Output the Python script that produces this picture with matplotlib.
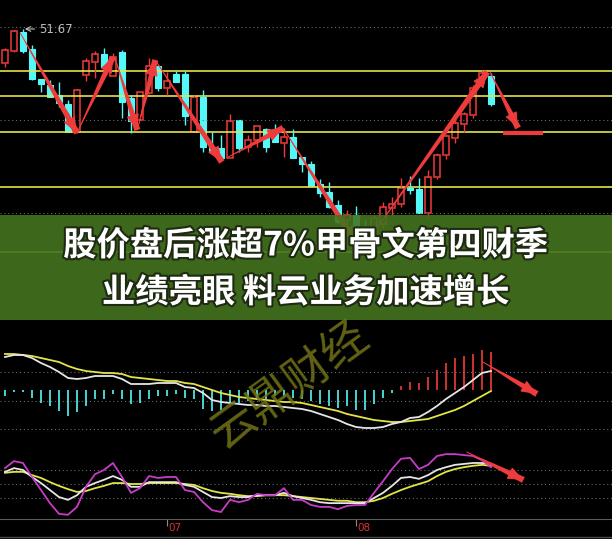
import numpy as np
import matplotlib.pyplot as plt
import matplotlib.patheffects as pe
from matplotlib.patches import Rectangle
from matplotlib.transforms import blended_transform_factory

plt.rcParams['font.family'] = ['Noto Sans CJK SC', 'DejaVu Sans']

# daily candles (price)
opens = [49.97, 50.57, 51.52, 50.67, 49.17, 48.87, 48.37, 47.92, 46.52, 49.37,
         50.02, 50.42, 49.32, 50.52, 48.22, 47.12, 48.47, 49.82, 48.72, 49.42,
         49.42, 46.52, 48.27, 45.77, 45.72, 45.22, 47.12, 45.77, 46.12, 46.67,
         46.52, 45.97, 46.27, 45.27, 44.92, 43.92, 43.52, 42.87, 42.12, 42.37,
         41.72, 41.42, 41.92, 42.72, 42.92, 43.72, 43.67, 42.47, 44.27, 45.37,
         46.22, 46.92, 47.37, 49.27, 49.32]
highs = [50.72, 51.62, 51.67, 50.87, 49.17, 49.12, 49.02, 48.12, 48.67, 50.22,
         50.57, 50.72, 50.47, 50.62, 48.37, 48.52, 50.22, 49.87, 49.52, 49.57,
         49.57, 48.37, 48.62, 46.52, 46.37, 47.42, 47.12, 46.37, 46.82, 46.72,
         46.92, 46.72, 46.67, 45.27, 45.07, 44.17, 44.02, 43.12, 42.62, 42.82,
         42.12, 42.37, 43.02, 43.27, 44.22, 44.32, 44.22, 44.62, 45.47, 46.42,
         47.12, 47.52, 48.87, 49.62, 49.47]
lows = [49.77, 50.52, 50.47, 49.12, 48.52, 48.27, 47.77, 46.52, 46.47, 49.07,
        49.22, 49.72, 49.32, 47.22, 46.47, 47.12, 48.42, 48.57, 48.37, 49.02,
        46.87, 46.52, 45.52, 45.42, 45.12, 45.22, 45.52, 45.52, 45.77, 45.52,
        46.02, 45.27, 45.22, 44.52, 43.82, 43.27, 42.72, 41.92, 41.72, 41.02,
        41.12, 41.12, 41.72, 42.37, 42.77, 43.42, 42.47, 42.27, 44.17, 45.17,
        45.97, 46.52, 47.22, 49.22, 47.82]
closes = [50.62, 51.57, 50.57, 49.17, 48.92, 48.27, 47.97, 46.52, 48.62, 50.07,
          50.42, 49.77, 50.27, 48.02, 47.07, 48.52, 49.82, 48.72, 49.07, 49.02,
          47.32, 48.27, 45.77, 45.52, 45.22, 47.07, 45.72, 46.12, 46.82, 45.77,
          46.02, 46.27, 45.22, 44.92, 43.82, 43.47, 42.77, 42.02, 42.37, 41.37,
          41.47, 42.22, 42.77, 42.92, 43.72, 43.62, 42.47, 44.27, 45.37, 46.32,
          46.97, 47.42, 48.72, 49.47, 47.92]
high_label = '51.67'

# support / resistance levels and grid
levels = [49.57, 48.32, 46.52, 43.77, 40.52]
price_grid = [51.77, 47.12, 42.47]

# MACD
dif = [0.65, 0.69, 0.69, 0.63, 0.53, 0.45, 0.35, 0.23, 0.21, 0.23,
       0.27, 0.27, 0.27, 0.21, 0.11, 0.11, 0.11, 0.13, 0.13, 0.13,
       0.05, 0.03, -0.07, -0.21, -0.25, -0.27, -0.29, -0.31, -0.31, -0.33,
       -0.33, -0.35, -0.37, -0.39, -0.43, -0.49, -0.55, -0.61, -0.69, -0.75,
       -0.77, -0.77, -0.75, -0.69, -0.65, -0.57, -0.55, -0.45, -0.33, -0.19,
       -0.07, 0.05, 0.19, 0.33, 0.37]
dea = [0.71, 0.71, 0.69, 0.67, 0.63, 0.59, 0.55, 0.47, 0.41, 0.37,
       0.35, 0.33, 0.33, 0.31, 0.25, 0.23, 0.21, 0.19, 0.17, 0.17,
       0.13, 0.11, 0.05, -0.01, -0.07, -0.11, -0.15, -0.17, -0.19, -0.21,
       -0.23, -0.25, -0.25, -0.27, -0.31, -0.35, -0.39, -0.43, -0.49, -0.53,
       -0.57, -0.61, -0.63, -0.65, -0.65, -0.63, -0.61, -0.59, -0.53, -0.47,
       -0.41, -0.33, -0.23, -0.13, -0.03]
macd_hist = [-0.12, -0.04, -0.04, -0.16, -0.26, -0.32, -0.42, -0.52, -0.44, -0.32,
             -0.18, -0.18, -0.08, -0.18, -0.28, -0.26, -0.18, -0.12, -0.12, -0.08,
             -0.16, -0.18, -0.38, -0.42, -0.40, -0.26, -0.26, -0.22, -0.20, -0.18,
             -0.12, -0.12, -0.16, -0.18, -0.22, -0.28, -0.32, -0.36, -0.32, -0.40,
             -0.40, -0.28, -0.16, -0.06, 0.08, 0.16, 0.14, 0.26, 0.40, 0.54,
             0.64, 0.68, 0.72, 0.80, 0.76]
macd_grid = [0.35, -0.23, -0.79]

# KDJ
k_line = [76, 84, 80, 65, 52, 37, 22, 16, 26, 44, 52, 59, 67, 59, 44, 44, 54, 54, 54, 54,
          48, 44, 33, 22, 20, 24, 22, 22, 26, 26, 26, 31, 24, 20, 16, 11, 9, 9, 9, 9,
          9, 20, 31, 46, 63, 65, 61, 69, 80, 86, 91, 93, 95, 95, 93]
d_line = [74, 76, 76, 69, 63, 54, 46, 39, 33, 35, 41, 46, 52, 52, 50, 50, 52, 52, 52, 52,
          50, 48, 41, 35, 31, 29, 26, 24, 24, 26, 26, 26, 24, 22, 20, 18, 16, 14, 14, 11,
          11, 14, 20, 29, 37, 44, 50, 56, 67, 76, 82, 86, 89, 91, 89]
j_line = [84, 99, 95, 65, 37, 9, -14, -16, 1, 44, 71, 80, 95, 65, 31, 41, 67, 63, 65, 65,
          37, 33, 11, -6, -10, 16, 11, 16, 29, 26, 26, 41, 16, 16, 5, 1, 1, -4, 3, 5,
          5, 31, 56, 82, 104, 106, 82, 91, 110, 114, 114, 112, 110, 101, 86]
kdj_grid = [80, 50, 20]

month_ticks = [18, 39]
month_labels = ['07', '08']

# hand-drawn trend arrows: (candle index, value)
price_arrows = [
    ((1.7, 51.47), (8.0, 46.47)),
    ((8.0, 46.47), (12.0, 50.27)),
    ((12.2, 50.27), (14.7, 46.62)),
    ((14.7, 46.62), (16.7, 50.12)),
    ((16.7, 50.12), (24.1, 45.02)),
    ((24.8, 45.27), (30.9, 46.72)),
    ((30.9, 46.72), (38.9, 41.02)),
    ((40.4, 41.12), (53.6, 49.52)),
    ((53.9, 49.52), (57.0, 46.72)),
]
target_bar = ((55.3, 59.8), 46.47)
macd_arrow = ((53.1, 0.55), (59.1, -0.09))
kdj_arrow = ((51.3, 118.6), (57.6, 58.6))

title_lines = ['股价盘后涨超7%甲骨文第四财季', '业绩亮眼 料云业务加速增长']
watermark = '云鼎财经'

RED = '#f23a3a'
CYAN = '#55f8f8'
YELLOW = '#e4e44a'
GRID = '#6a6a6a'
ARROW = '#ee3b3b'

W, H = 612, 539
fig = plt.figure(figsize=(W / 100, H / 100), dpi=100, facecolor='black')
XLIM = (-5 / 9, 607 / 9)


def panel(top, bottom, ylim):
    ax = fig.add_axes([0, 1 - bottom / H, 1, (bottom - top) / H])
    ax.set_facecolor('black')
    ax.set_xlim(*XLIM)
    ax.set_ylim(*ylim)
    ax.set_xticks([])
    ax.set_yticks([])
    for s in ax.spines.values():
        s.set_visible(False)
    return ax


def arrow(ax, p0, p1, scale=10, tail=0.46):
    # tapered shaft: wide at the head end, thin at the start
    ax.annotate('', xy=p0, xytext=p1, annotation_clip=False,
                arrowprops=dict(arrowstyle=f'wedge,tail_width={tail},shrink_factor=0.55',
                                color=ARROW, mutation_scale=scale, shrinkA=0, shrinkB=0, lw=0))
    ax.annotate('', xy=p1, xytext=p0, annotation_clip=False,
                arrowprops=dict(arrowstyle='-|>,head_width=0.4,head_length=1.0',
                                color=ARROW, mutation_scale=scale, shrinkA=0, shrinkB=0, lw=0.7))


x = np.arange(len(opens))
o, h, l, c = map(np.array, (opens, highs, lows, closes))
up = c >= o

# price panel
ax_p = panel(0, 262, (40.02, 53.12))
for g in price_grid:
    ax_p.axhline(g, color=GRID, lw=0.8, ls=(0, (1, 2.5)))
for lv in levels:
    ax_p.axhline(lv, color=YELLOW, lw=1.2)
body_lo = np.minimum(o, c)
body_hi = np.maximum(o, c)
ax_p.vlines(x, l, body_lo, colors=np.where(up, RED, CYAN), lw=1)
ax_p.vlines(x, body_hi, h, colors=np.where(up, RED, CYAN), lw=1)
ax_p.bar(x[~up], (body_hi - body_lo)[~up], bottom=body_lo[~up], width=0.72,
         color=CYAN, edgecolor=CYAN, lw=0.8)
ax_p.bar(x[up], np.maximum(body_hi - body_lo, 0.02)[up], bottom=body_lo[up], width=0.7,
         facecolor='black', edgecolor=RED, lw=1.1)
ax_p.annotate(high_label, xy=(2.2, h.max()), xytext=(10, 0), textcoords='offset points',
              color='#bdbdbd', fontsize=8.5, va='center', family='DejaVu Sans',
              arrowprops=dict(arrowstyle='->', color='#bdbdbd', lw=0.8, shrinkA=1, shrinkB=0))
for p0, p1 in price_arrows:
    arrow(ax_p, p0, p1)
(bx0, bx1), by = target_bar
ax_p.hlines(by, bx0, bx1, color=ARROW, lw=3)

# MACD panel
ax_m = panel(320, 432, (-0.85, 1.39))
for g in macd_grid:
    ax_m.axhline(g, color=GRID, lw=0.8, ls=(0, (1, 2.5)))
hist = np.array(macd_hist)
ax_m.vlines(x, 0, hist, colors=np.where(hist < 0, CYAN, RED), lw=1.2)
ax_m.plot(x, dea, color=YELLOW, lw=1.3)
ax_m.plot(x, dif, color='#e6e6e6', lw=1.3)
ax_m.spines['bottom'].set_visible(True)
ax_m.spines['bottom'].set_color('#5a5a5a')
arrow(ax_m, *macd_arrow)

# KDJ panel
ax_k = panel(432, 519, (-25, 161.4))
for g in kdj_grid:
    ax_k.axhline(g, color=GRID, lw=0.8, ls=(0, (1, 2.5)))
ax_k.plot(x, d_line, color=YELLOW, lw=1.3)
ax_k.plot(x, k_line, color='#e6e6e6', lw=1.3)
ax_k.plot(x, j_line, color='#c83cc8', lw=1.3)
ax_k.spines['bottom'].set_visible(True)
ax_k.spines['bottom'].set_color('#5a5a5a')
ax_k.set_xticks(month_ticks)
ax_k.set_xticklabels([])
ax_k.tick_params(axis='x', direction='out', length=5, color='#8a8a8a', width=0.8)
tr = blended_transform_factory(ax_k.transData, ax_k.transAxes)
for t, lab in zip(month_ticks, month_labels):
    ax_k.text(t + 0.2, -0.05, lab, transform=tr, color='#e03030', fontsize=7.5,
              va='top', ha='left', family='DejaVu Sans')
arrow(ax_k, *kdj_arrow)

# overlay: banner + watermark
ax_o = fig.add_axes([0, 0, 1, 1], zorder=10)
ax_o.set_xlim(0, W)
ax_o.set_ylim(H, 0)
ax_o.axis('off')
ax_o.axhline(537, color='#4a4a4a', lw=1)
ax_o.add_patch(Rectangle((0, 215), W, 105, facecolor='#44731f', alpha=0.9, lw=0))
for ty, line in zip((246, 293), title_lines):
    ax_o.text(W / 2, ty, line, color='white', fontsize=24, fontweight='bold',
              ha='center', va='center',
              path_effects=[pe.withStroke(linewidth=3, foreground='#1e2a12')])
ax_o.text(289, 385, watermark, color='#737318', alpha=0.85, fontsize=33,
          rotation=36, ha='center', va='center')

fig.savefig('out.png', dpi=100, facecolor='black')
